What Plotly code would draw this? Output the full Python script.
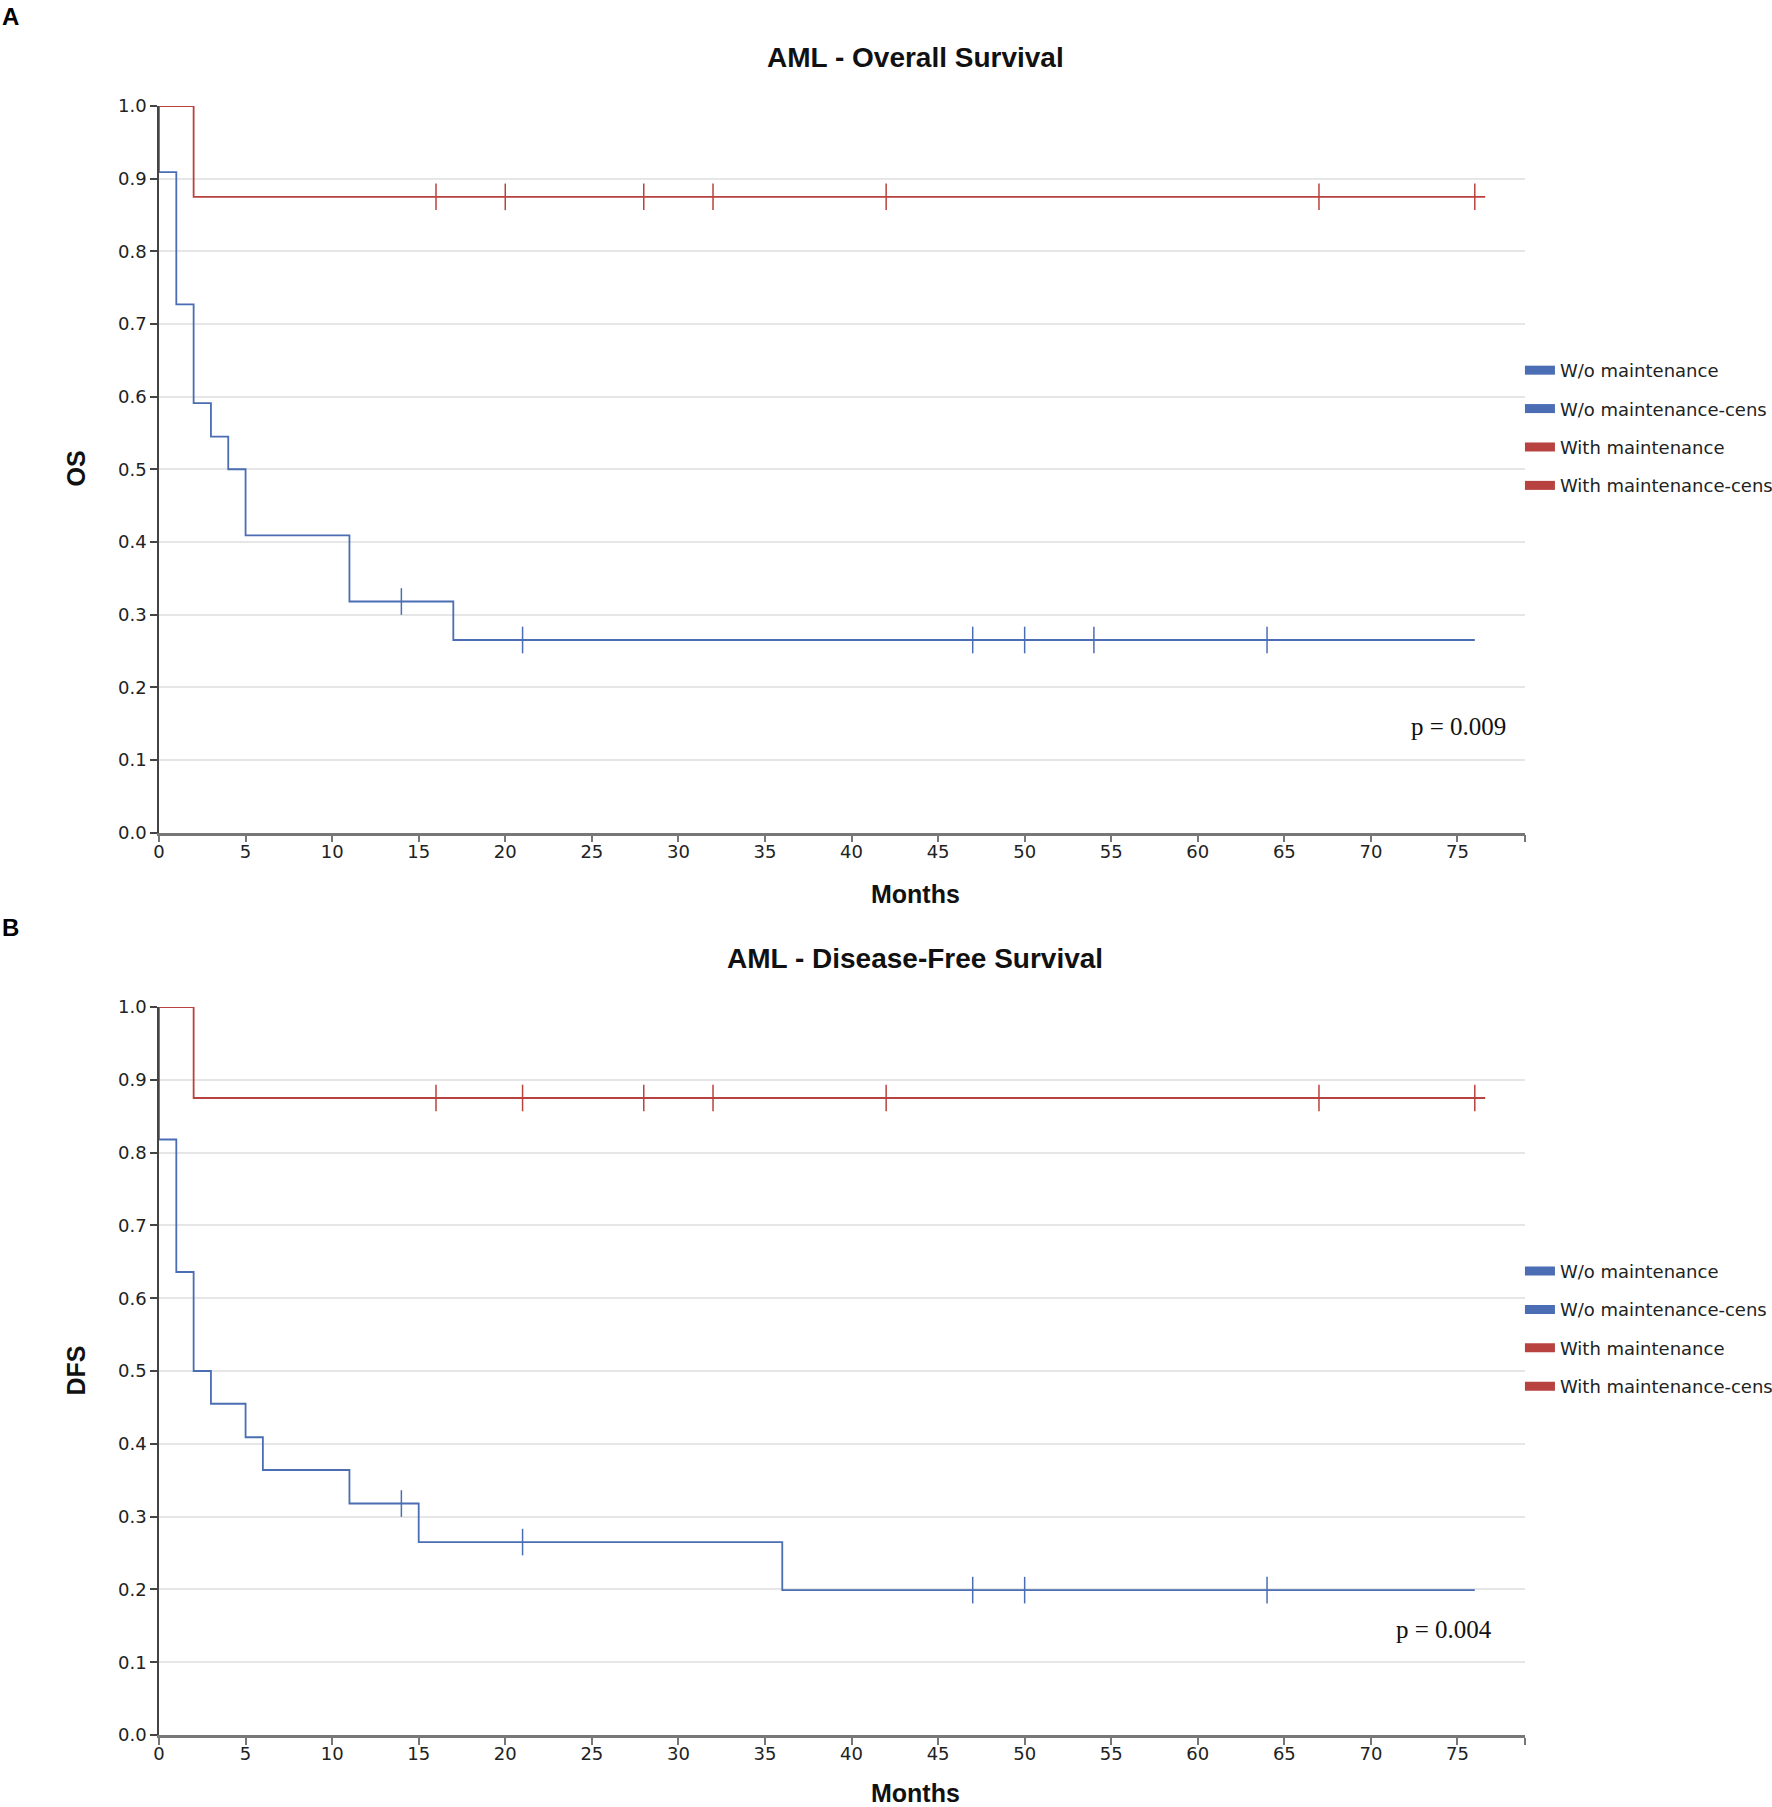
import plotly.graph_objects as go
from plotly.subplots import make_subplots

# Kaplan-Meier step data (months, survival probability)
month_ticks = list(range(0, 80, 5))
surv_ticks = [round(0.1 * i, 1) for i in range(11)]

os_wo_time = [0, 0, 1, 2, 3, 4, 5, 11, 17, 76]
os_wo_surv = [1.0, 0.909, 0.727, 0.591, 0.545, 0.5, 0.409, 0.318, 0.265, 0.265]
os_wo_cens = [14, 21, 47, 50, 54, 64]
os_with_time = [0, 2, 76.6]
os_with_surv = [1.0, 0.875, 0.875]
os_with_cens = [16, 20, 28, 32, 42, 67, 76]

dfs_wo_time = [0, 0, 1, 2, 3, 5, 6, 11, 15, 36, 76]
dfs_wo_surv = [1.0, 0.818, 0.636, 0.5, 0.455, 0.409, 0.364, 0.318, 0.265, 0.199, 0.199]
dfs_wo_cens = [14, 21, 47, 50, 64]
dfs_with_time = [0, 2, 76.6]
dfs_with_surv = [1.0, 0.875, 0.875]
dfs_with_cens = [16, 21, 28, 32, 42, 67, 76]

p_values = ["p = 0.009", "p = 0.004"]
panel_titles = ["AML - Overall Survival", "AML - Disease-Free Survival"]
y_titles = ["OS", "DFS"]
group_names = ["W/o maintenance", "W/o maintenance-cens",
               "With maintenance", "With maintenance-cens"]

BLUE = "#4a6db3"
RED = "#b8423f"
TICK_FONT = dict(family="DejaVu Sans", size=18, color="#222")


def step_value(times, surv, t):
    """Survival value of the step curve at time t."""
    val = surv[0]
    for ti, si in zip(times, surv):
        if ti <= t:
            val = si
    return val


fig = make_subplots(rows=2, cols=1)

panels = [
    (os_wo_time, os_wo_surv, os_wo_cens, os_with_time, os_with_surv, os_with_cens),
    (dfs_wo_time, dfs_wo_surv, dfs_wo_cens, dfs_with_time, dfs_with_surv, dfs_with_cens),
]

for row, (wt, ws, wc, mt, ms, mc) in enumerate(panels, start=1):
    legend_name = "legend" if row == 1 else "legend2"
    curves = [(wt, ws, wc, BLUE), (mt, ms, mc, RED)]
    for times, surv, cens, color in curves:
        fig.add_trace(go.Scatter(x=times, y=surv, mode="lines", line_shape="hv",
                                 line=dict(color=color, width=1.8), cliponaxis=False,
                                 showlegend=False, hoverinfo="skip"), row=row, col=1)
        fig.add_trace(go.Scatter(x=cens, y=[step_value(times, surv, c) for c in cens],
                                 mode="markers", cliponaxis=False,
                                 marker=dict(symbol="line-ns", size=19,
                                             line=dict(color=color, width=1.5)),
                                 showlegend=False, hoverinfo="skip"), row=row, col=1)
    # legend swatches (rectangles)
    for name, color in zip(group_names, [BLUE, BLUE, RED, RED]):
        fig.add_trace(go.Scatter(x=[None], y=[None], mode="lines", name=name,
                                 line=dict(color=color, width=9), legend=legend_name,
                                 legendgroup=f"{row}-{name}"), row=row, col=1)

# plot area geometry (px): left 158.5, right 1524.6, rows 106-832.5 and 1007-1735
axis_common = dict(showgrid=False, zeroline=False, showline=True, ticks="outside",
                   ticklen=7, tickwidth=1.5, tickfont=TICK_FONT)
for xa in ["xaxis", "xaxis2"]:
    fig.layout[xa].update(range=[0, 78.9], tickvals=month_ticks + [78.9],
                          ticktext=[str(m) for m in month_ticks] + [""],
                          linecolor="#777", linewidth=2.5, tickcolor="#777",
                          ticklabelstandoff=-6, **axis_common)
for ya in ["yaxis", "yaxis2"]:
    fig.layout[ya].update(range=[0, 1], tickvals=surv_ticks, tickformat=".1f",
                          linecolor="#444", linewidth=1.5, tickcolor="#444",
                          **axis_common)
    fig.layout[ya].update(showgrid=True, gridcolor="#e6e6e6", gridwidth=1.5)

fig.layout.yaxis.domain = [0.554, 1.0]
fig.layout.yaxis2.domain = [0.0, 0.4469]

annotations = []
title_y = [1.0298, 0.4764]
months_y = [0.5163, -0.0356]
ytitle_y = [0.7772, 0.2235]
label_y = [1.0552, 0.4954]
p_y = [0.619, 0.0645]
p_x = [0.9872, 0.9776]
center = dict(xref="paper", yref="paper", showarrow=False, xanchor="center", yanchor="middle")
for i in range(2):
    annotations.append(dict(text=f"<b>{panel_titles[i]}</b>", x=0.5538, y=title_y[i],
                            font=dict(family="Liberation Sans", size=28, color="#111"),
                            **center))
    annotations.append(dict(text="<b>Months</b>", x=0.5538, y=months_y[i],
                            font=dict(family="Liberation Sans", size=25, color="#111"),
                            **center))
    annotations.append(dict(text=f"<b>{y_titles[i]}</b>", x=-0.0611, y=ytitle_y[i],
                            textangle=-90,
                            font=dict(family="Liberation Sans", size=25, color="#111"),
                            **center))
    annotations.append(dict(text=f"<b>{'AB'[i]}</b>", x=-0.1087, y=label_y[i],
                            font=dict(family="Liberation Sans", size=24, color="#000"),
                            **center))
    annotations.append(dict(text=p_values[i], x=p_x[i], y=p_y[i], xanchor="right",
                            yanchor="middle", xref="paper", yref="paper", showarrow=False,
                            font=dict(family="Liberation Serif", size=25, color="#111")))

legend_style = dict(x=0.9963, xanchor="left", yanchor="top", bgcolor="rgba(0,0,0,0)",
                    font=dict(family="DejaVu Sans", size=18, color="#222"),
                    tracegroupgap=12, itemwidth=30, traceorder="grouped")

fig.update_layout(
    width=1772, height=1807,
    # fixed margins: the legends sit at the right edge and must not shrink the plots
    margin=dict(l=158.5, r=247.4, t=106, b=72, autoexpand=False),
    plot_bgcolor="white", paper_bgcolor="white",
    annotations=annotations,
    legend=dict(y=0.849, **legend_style),
    legend2=dict(y=0.296, **legend_style),
)

fig.write_html("out.html", config={"displayModeBar": False},
               post_script="document.body.style.margin='0';")
